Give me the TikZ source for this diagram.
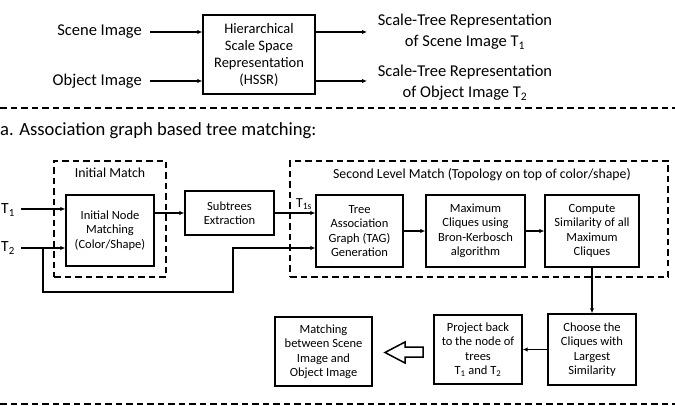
\documentclass[tikz,border=0pt]{standalone}
\usepackage{fontspec}
\setmainfont{Carlito}
\usetikzlibrary{arrows.meta}
\newcommand\bxfont{\fontsize{12.5}{14.5}\selectfont}
\newcommand\hsfont{\fontsize{14.5}{17}\selectfont}
\newcommand\bigfont{\fontsize{16.5}{21}\selectfont}
\newcommand\lblfont{\fontsize{13.8}{16}\selectfont}
\newcommand\tfont{\fontsize{15.5}{17}\selectfont}
\tikzset{
  bx/.style={draw, line width=1.4pt, align=center, font=\bxfont, inner sep=0pt},
  frame/.style={draw, line width=1.5pt, dash pattern=on 6.5pt off 4pt},
  sep/.style={line width=1.5pt, dash pattern=on 6.5pt off 4pt},
  conn/.style={line width=1.4pt, -{Latex[length=5pt,width=4.5pt]}},
  txt/.style={inner sep=0pt, align=center},
}
\begin{document}
\begin{tikzpicture}[x=1pt,y=-1pt]
\useasboundingbox (0,0) rectangle (675,406);
% top part
\node[bx, font=\hsfont, minimum width=112pt, minimum height=79pt] (hssr) at (259,54.5)
  {Hierarchical\\Scale Space\\Representation\\(HSSR)};
\node[txt, font=\bigfont, anchor=east] (scene) at (142,32) {Scene Image};
\node[txt, font=\bigfont, anchor=east] (object) at (142,81) {Object Image};
\node[txt, font=\bigfont] (out1) at (465,32) {Scale-Tree Representation\\of Scene Image T\textsubscript{1}};
\node[txt, font=\bigfont] (out2) at (465,83) {Scale-Tree Representation\\of Object Image T\textsubscript{2}};
\coordinate (s0) at (150,32);
\coordinate (o0) at (150,81);
\coordinate (e1) at (367,32);
\coordinate (e2) at (367,81);
\draw[conn] (s0) -- (hssr.west |- s0);
\draw[conn] (o0) -- (hssr.west |- o0);
\draw[conn] (hssr.east |- e1) -- (e1);
\draw[conn] (hssr.east |- e2) -- (e2);
% separators
\coordinate (l1a) at (0,108);
\coordinate (l1b) at (675,108);
\draw[sep] (l1a) -- (l1b);
\coordinate (l2a) at (0,404);
\coordinate (l2b) at (675,404);
\draw[sep] (l2a) -- (l2b);
\node[txt, font=\fontsize{18.6}{20}\selectfont, anchor=west] (head) at (0,131) {a. Association graph based tree matching:};
% frames
\node[frame, minimum width=112pt, minimum height=116pt, inner sep=0pt] (fr1) at (110,219) {};
\node[txt, font=\lblfont] (fr1t) at (110,173) {Initial Match};
\node[frame, minimum width=378pt, minimum height=116pt, inner sep=0pt] (fr2) at (479,219) {};
\node[txt, font=\lblfont] (fr2t) at (482,175) {Second Level Match (Topology on top of color/shape)};
% boxes
\node[bx, minimum width=88pt, minimum height=71pt] (init) at (110,230.5) {Initial Node\\Matching\\(Color/Shape)};
\node[bx, minimum width=89pt, minimum height=44pt] (sub) at (229.5,213) {Subtrees\\Extraction};
\node[bx, minimum width=87pt, minimum height=72pt] (tag) at (359.5,231) {Tree\\Association\\Graph (TAG)\\Generation};
\node[bx, minimum width=99pt, minimum height=72pt] (max) at (475.5,231) {Maximum\\Cliques using\\Bron-Kerbosch\\algorithm};
\node[bx, minimum width=94pt, minimum height=72pt] (comp) at (592,231) {Compute\\Similarity of all\\Maximum\\Cliques};
\node[bx, minimum width=88pt, minimum height=71pt] (choose) at (592,349.5) {Choose the\\Cliques with\\Largest\\Similarity};
\node[bx, minimum width=88pt, minimum height=69pt] (proj) at (478,349.5) {Project back\\to the node of\\trees\\T\textsubscript{1} and T\textsubscript{2}};
\node[bx, minimum width=97pt, minimum height=69pt] (match) at (323.5,351.5) {Matching\\between Scene\\Image and\\Object Image};
% inputs
\node[txt, font=\tfont, anchor=west] (t1) at (1,210) {T\textsubscript{1}};
\node[txt, font=\tfont, anchor=west] (t2) at (1,248) {T\textsubscript{2}};
\coordinate (t1s) at (21,209);
\coordinate (t2s) at (21,248);
\coordinate (split) at (43,248);
\draw[conn] (t1s) -- (init.west |- t1s);
\draw[conn] (t2s) -- (init.west |- t2s);
\coordinate (b1) at (43,292);
\coordinate (b2) at (233,292);
\coordinate (b3) at (233,248);
\draw[conn] (split) -- (b1) -- (b2) -- (b3) -- (tag.west |- b3);
\draw[conn] (init.east |- sub) -- (sub.west);
\draw[conn] (sub.east) -- (tag.west |- sub);
\node[txt, font=\lblfont] (t1slbl) at (304,204) {T\textsubscript{1s}};
\draw[conn] (tag.east) -- (max.west);
\draw[conn] (max.east) -- (comp.west);
\draw[conn] (comp.south) -- (choose.north);
\draw[conn] (choose.west) -- (proj.east);
% hollow arrow
\draw[line width=1.5pt, line join=miter] (423,347) -- (405,347) -- (405,342) -- (385,352.5) -- (405,363) -- (405,357) -- (423,357) -- cycle;
\end{tikzpicture}
\end{document}
